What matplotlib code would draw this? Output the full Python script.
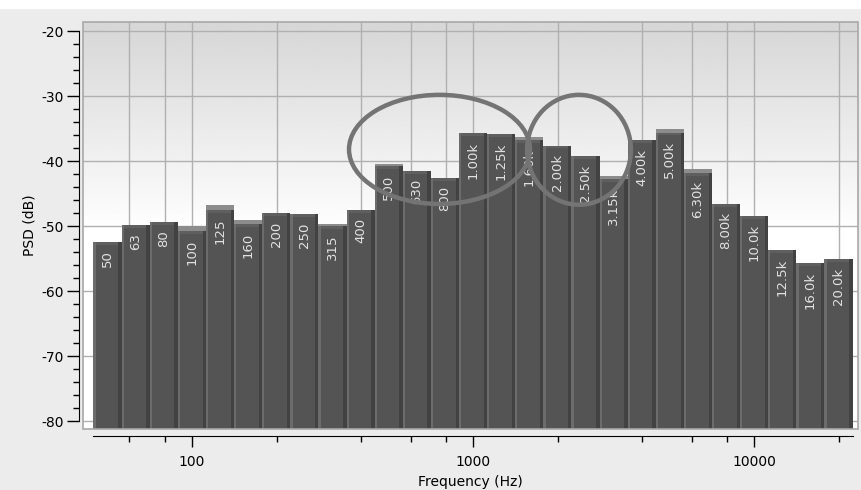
import numpy as np
import matplotlib.pyplot as plt
from matplotlib.patches import Ellipse, Rectangle
from matplotlib.ticker import LogLocator, FixedLocator, FuncFormatter, NullFormatter, MultipleLocator

plt.rcParams["axes.unicode_minus"] = False
plt.rcParams["font.family"] = ["DejaVu Sans"]

# 1/3 octave bands
freqs = np.array([50, 63, 80, 100, 125, 160, 200, 250, 315, 400, 500, 630, 800,
                  1000, 1250, 1600, 2000, 2500, 3150, 4000, 5000, 6300, 8000,
                  10000, 12500, 16000, 20000])
band_labels = ["50", "63", "80", "100", "125", "160", "200", "250", "315", "400",
               "500", "630", "800", "1.00k", "1.25k", "1.60k", "2.00k", "2.50k",
               "3.15k", "4.00k", "5.00k", "6.30k", "8.00k", "10.0k", "12.5k",
               "16.0k", "20.0k"]
psd = np.array([-52.4, -49.8, -49.3, -50.8, -47.5, -49.7, -48.0, -48.1, -50.0,
                -47.5, -40.8, -41.5, -42.6, -35.7, -35.9, -36.8, -37.6, -39.2,
                -42.8, -36.8, -35.6, -41.8, -46.6, -48.4, -53.7, -55.7, -55.1])
# peak hold (light grey caps)
peak = np.array([-52.4, -49.8, -49.3, -50.0, -46.8, -49.1, -48.0, -48.1, -49.7,
                 -47.5, -40.4, -41.5, -42.6, -35.7, -35.9, -36.3, -37.6, -39.2,
                 -42.3, -36.8, -35.1, -41.2, -46.6, -48.4, -53.7, -55.7, -55.1])

# exact band centres and edges on the log axis
centers = 1000 * 10 ** (np.round(10 * np.log10(freqs / 1000)) / 10)
lo = centers * 10 ** -0.05
hi = centers * 10 ** 0.05


def sub_edge(frac):
    return lo * (hi / lo) ** frac


base = -90
fig = plt.figure(figsize=(8.61, 4.90), dpi=100, facecolor="#ececec")
fig.patches.append(Rectangle((0, 1 - 8 / 490), 1, 8 / 490, transform=fig.transFigure,
                             color="white", zorder=0))
pos = [83 / 861, 61 / 490, 775 / 861, 407 / 490]

# gradient background of the plot area
bg = fig.add_axes(pos, zorder=0)
rows = np.linspace(1, 0, 200)
shade = np.interp(rows, [0, 0.48, 1.0], [1.0, 1.0, 0.84])
bg.imshow(np.repeat(shade[:, None], 2, axis=1), cmap="gray", vmin=0, vmax=1,
          aspect="auto", extent=(0, 1, 0, 1))
bg.axis("off")

ax = fig.add_axes(pos, zorder=1)
ax.patch.set_alpha(0)
ax.set_xscale("log")

ax.bar(lo, peak - base, width=hi - lo, bottom=base, align="edge",
       color="#8c8c8c", linewidth=0, zorder=2)
ax.bar(lo, psd - base, width=hi - lo, bottom=base, align="edge",
       color="#6c6c6c", linewidth=0, zorder=3)
ax.bar(sub_edge(0.08), psd - base, width=sub_edge(0.88) - sub_edge(0.08), bottom=base,
       align="edge", color="#545454", linewidth=0, zorder=4)
ax.bar(sub_edge(0.88), psd - base, width=hi - sub_edge(0.88), bottom=base,
       align="edge", color="#424242", linewidth=0, zorder=4)
ax.bar(sub_edge(0.08), np.full(len(psd), 0.45), width=sub_edge(0.88) - sub_edge(0.08),
       bottom=psd - 0.45, align="edge", color="#5f5f5f", linewidth=0, zorder=5)

for f, v, s in zip(centers, psd, band_labels):
    ax.annotate(s, xy=(f, v), xytext=(0, -6), textcoords="offset points",
                rotation=90, ha="center", va="top", color="#e2e2e2",
                fontsize=9.5, zorder=6)

ax.set_xlim(41, 23400)
ax.set_ylim(-81.2, -18.6)

# axes
for side in ["top", "right"]:
    ax.spines[side].set_visible(False)
ax.spines["left"].set_position(("outward", 3))
ax.spines["left"].set_bounds(-80, -20)
ax.spines["bottom"].set_position(("outward", 5))
ax.spines["bottom"].set_bounds(lo[0], hi[-1])
ax.add_patch(Rectangle((0, 0), 1, 1, transform=ax.transAxes, fill=False,
                       ec="#a8a8a8", lw=1.2, zorder=7, clip_on=False))

ax.yaxis.set_major_locator(MultipleLocator(10))
ax.yaxis.set_minor_locator(MultipleLocator(2))
ax.xaxis.set_major_locator(FixedLocator([100, 1000, 10000]))
ax.xaxis.set_minor_locator(LogLocator(base=10, subs=(2, 4, 6, 8), numticks=20))
ax.xaxis.set_major_formatter(FuncFormatter(lambda v, p: "%d" % v))
ax.xaxis.set_minor_formatter(NullFormatter())

ax.tick_params(axis="y", which="major", length=8.5, width=1, pad=2, labelsize=10)
ax.tick_params(axis="y", which="minor", length=4.5, width=1)
ax.tick_params(axis="x", which="major", length=8, width=1, pad=6, labelsize=10)
ax.tick_params(axis="x", which="minor", length=4.5, width=1)

ax.grid(True, which="major", axis="y", color="#b0b0b0", lw=1, zorder=1)
ax.grid(True, which="both", axis="x", color="#b0b0b0", lw=1, zorder=1)
ax.set_axisbelow(True)

ax.set_xlabel("Frequency (Hz)", fontsize=10, labelpad=4)
ax.set_ylabel("PSD (dB)", fontsize=10, labelpad=4)

# highlight circles
ax.add_patch(Ellipse((0.460, 0.687), 0.2335, 0.268, transform=ax.transAxes,
                     fill=False, ec="#747474", lw=3.2, zorder=10, clip_on=False))
ax.add_patch(Ellipse((0.640, 0.686), 0.134, 0.270, transform=ax.transAxes,
                     fill=False, ec="#747474", lw=3.2, zorder=10, clip_on=False))

plt.savefig("out.png", dpi=100, facecolor=fig.get_facecolor())
